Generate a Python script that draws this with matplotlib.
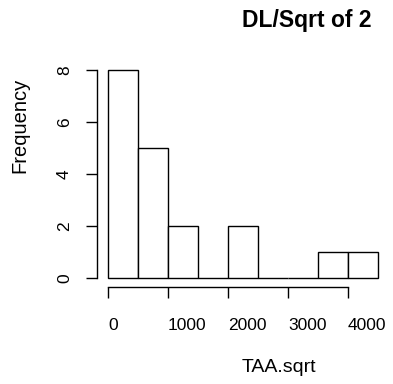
import matplotlib
matplotlib.use("Agg")
import matplotlib.pyplot as plt
import numpy as np

plt.rcParams['font.family'] = ['Liberation Sans', 'DejaVu Sans']

bin_edges = [0, 500, 1000, 1500, 2000, 2500, 3000, 3500, 4000, 4500]
counts = [8, 5, 2, 0, 2, 0, 0, 1, 1]
xticks = [0, 1000, 2000, 3000, 4000]
yticks = [0, 2, 4, 6, 8]
title = "DL/Sqrt of 2"
xlabel = "TAA.sqrt"
ylabel = "Frequency"

W, H = 393, 384
fig = plt.figure(figsize=(W/100, H/100), dpi=100)

# axes placed in pixel coordinates
left_px, right_px, top_px, bottom_px = 97, 388, 60, 287
ax = fig.add_axes([left_px/W, 1-bottom_px/H, (right_px-left_px)/W, (bottom_px-top_px)/H])
sx = 0.06
x0px = 108
ax.set_xlim((left_px-x0px)/sx, (right_px-x0px)/sx)
sy = 26.0
y0px = 278
ax.set_ylim(-(bottom_px-y0px)/sy, (y0px-top_px)/sy)

widths = np.diff(bin_edges)
ax.bar(bin_edges[:-1], counts, width=widths, align='edge', facecolor='white',
       edgecolor='black', linewidth=1.0)

for s in ['top', 'right']:
    ax.spines[s].set_visible(False)
ax.spines['left'].set_bounds(0, 8)
ax.spines['bottom'].set_bounds(0, 4000)
ax.spines['left'].set_linewidth(1.0)
ax.spines['bottom'].set_linewidth(1.0)

ax.set_xticks(xticks)
ax.set_xticklabels([str(v) for v in xticks], ha='left')
ax.set_yticks(yticks)
ax.set_yticklabels([str(v) for v in yticks], rotation=90, va='center')
ax.tick_params(axis='both', direction='out', length=8, width=1.0, labelsize=12.5)
ax.tick_params(axis='x', pad=14)
ax.tick_params(axis='y', pad=10)

fig.text(307/W, 1-20/H, title, ha='center', va='center', fontsize=16.5, fontweight='bold')
fig.text(279/W, 1-368/H, xlabel, ha='center', va='center', fontsize=14)
fig.text(20/W, 1-125/H, ylabel, ha='center', va='center', fontsize=14.5, rotation=90)

fig.savefig("out.png", dpi=100)
